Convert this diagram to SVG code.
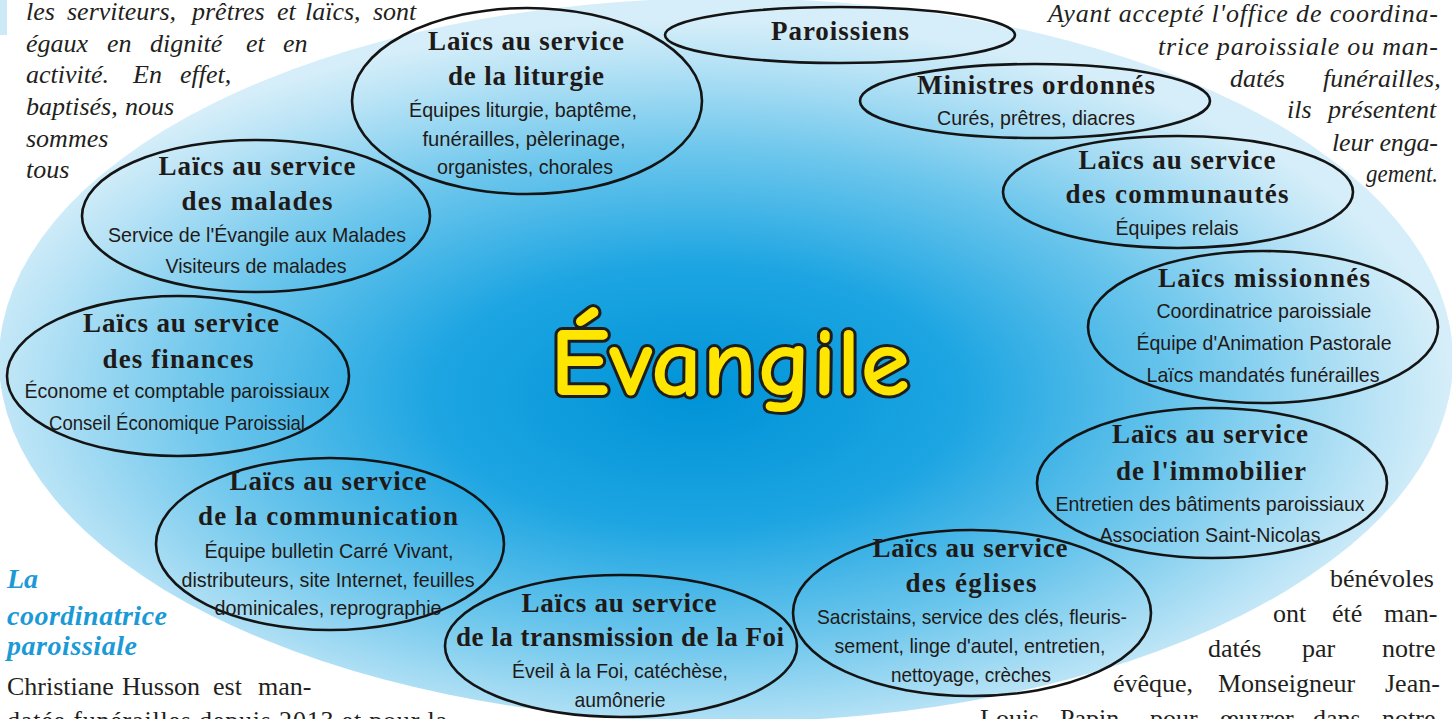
<svg xmlns="http://www.w3.org/2000/svg" width="1452" height="719" viewBox="0 0 1452 719">
<defs>
<radialGradient id="bg" cx="0.48" cy="0.55" r="0.52">
<stop offset="0" stop-color="#0093d7"/>
<stop offset="0.35" stop-color="#1da5e2"/>
<stop offset="0.65" stop-color="#6cc6ec"/>
<stop offset="0.9" stop-color="#bbe4f6"/>
<stop offset="1" stop-color="#d6eef9"/>
</radialGradient>
<style>
.node ellipse{fill:none;stroke:#141414;stroke-width:2.6}
.t{font-family:"Liberation Serif","Times New Roman",serif;font-weight:bold;font-size:27px;fill:#1f1a17;text-anchor:middle}
.s{font-family:"Liberation Sans",Arial,sans-serif;font-size:21px;fill:#1f1a17;text-anchor:middle}
.it{font-family:"Liberation Serif","Times New Roman",serif;font-style:italic;font-size:26px;fill:#231f20}
.body{font-family:"Liberation Serif","Times New Roman",serif;font-size:26px;fill:#231f20}
.blue{font-family:"Liberation Serif","Times New Roman",serif;font-style:italic;font-weight:bold;font-size:28px;fill:#1b9ad6}
.ev{font-family:"Comic Sans MS","Comic Neue","DejaVu Sans",sans-serif;font-weight:bold;font-size:98px;fill:#ffe600;stroke:#1d1d1b;stroke-width:6;stroke-linejoin:round;paint-order:stroke;text-anchor:middle}
</style>
</defs>
<rect width="1452" height="719" fill="#ffffff"/>
<rect x="0" y="0" width="7" height="35" fill="#cbe9f7"/>
<ellipse id="background" cx="726" cy="360" rx="727" ry="362" fill="url(#bg)"/>

<!-- surrounding article text -->
<g id="text-top-left" class="it">
<text y="20"><tspan x="26">les</tspan><tspan x="67">serviteurs,</tspan><tspan x="192">prêtres</tspan><tspan x="277">et</tspan><tspan x="305">laïcs,</tspan><tspan x="373">sont</tspan></text>
<text y="52"><tspan x="26">égaux</tspan><tspan x="107">en</tspan><tspan x="150">dignité</tspan><tspan x="246">et</tspan><tspan x="283">en</tspan></text>
<text y="83"><tspan x="26">activité.</tspan><tspan x="133">En</tspan><tspan x="180">effet,</tspan></text>
<text y="115"><tspan x="26">baptisés,</tspan><tspan x="125">nous</tspan></text>
<text y="147" x="26">sommes</text>
<text y="178" x="26">tous</text>
</g>
<g id="text-top-right" class="it">
<text x="1048" y="22" textLength="390" lengthAdjust="spacing">Ayant accepté l'office de coordina-</text>
<text x="1158" y="55" textLength="280" lengthAdjust="spacing">trice paroissiale ou man-</text>
<text y="87"><tspan x="1230">datés</tspan><tspan x="1323">funérailles,</tspan></text>
<text y="118"><tspan x="1287">ils</tspan><tspan x="1328">présentent</tspan></text>
<text x="1332" y="151" textLength="106" lengthAdjust="spacing">leur enga-</text>
<text x="1366" y="182" textLength="72" lengthAdjust="spacingAndGlyphs">gement.</text>
</g>
<g id="text-bottom-left">
<text class="blue" x="7" y="588">La</text>
<text class="blue" x="7" y="625" textLength="160" lengthAdjust="spacing">coordinatrice</text>
<text class="blue" x="7" y="655" textLength="130" lengthAdjust="spacing">paroissiale</text>
<text class="body" y="695"><tspan x="7">Christiane</tspan><tspan x="122">Husson</tspan><tspan x="213">est</tspan><tspan x="258">man-</tspan></text>
<text class="body" x="7" y="729" textLength="440" lengthAdjust="spacing">datée funérailles depuis 2013 et pour la</text>
</g>
<g id="text-bottom-right" class="body">
<text x="1330" y="587">bénévoles</text>
<text y="622"><tspan x="1273">ont</tspan><tspan x="1332">été</tspan><tspan x="1384">man-</tspan></text>
<text y="657"><tspan x="1208">datés</tspan><tspan x="1302">par</tspan><tspan x="1382">notre</tspan></text>
<text y="692"><tspan x="1113">évêque,</tspan><tspan x="1218">Monseigneur</tspan><tspan x="1385">Jean-</tspan></text>
<text y="727"><tspan x="980">Louis</tspan><tspan x="1060">Papin,</tspan><tspan x="1150">pour</tspan><tspan x="1220">œuvrer</tspan><tspan x="1313">dans</tspan><tspan x="1382">notre</tspan></text>
</g>

<g id="center">
<text class="ev" x="730" y="395" textLength="360" lengthAdjust="spacingAndGlyphs">Évangile</text>
</g>

<g id="connectors"></g>

<g id="paroissiens" class="node">
<ellipse cx="840" cy="35" rx="175" ry="28"/>
<text class="t" x="840" y="40" textLength="138">Paroissiens</text>
</g>
<g id="ministres" class="node">
<ellipse cx="1035" cy="101" rx="175" ry="37"/>
<text class="t" x="1036" y="94" textLength="238">Ministres ordonnés</text>
<text class="s" x="1036" y="125" textLength="198" lengthAdjust="spacingAndGlyphs">Curés, prêtres, diacres</text>
</g>
<g id="liturgie" class="node">
<ellipse cx="527" cy="101" rx="175" ry="93"/>
<text class="t" x="526" y="50" textLength="196">Laïcs au service</text>
<text class="t" x="526" y="85" textLength="156">de la liturgie</text>
<text class="s" x="523" y="117" textLength="228" lengthAdjust="spacingAndGlyphs">Équipes liturgie, baptême,</text>
<text class="s" x="524" y="146" textLength="203" lengthAdjust="spacingAndGlyphs">funérailles, pèlerinage,</text>
<text class="s" x="525" y="174" textLength="176" lengthAdjust="spacingAndGlyphs">organistes, chorales</text>
</g>
<g id="malades" class="node">
<ellipse cx="256" cy="216" rx="174" ry="76"/>
<text class="t" x="257" y="175" textLength="197">Laïcs au service</text>
<text class="t" x="257" y="210" textLength="151">des malades</text>
<text class="s" x="257" y="242" textLength="298" lengthAdjust="spacingAndGlyphs">Service de l'Évangile aux Malades</text>
<text class="s" x="256" y="273" textLength="181" lengthAdjust="spacingAndGlyphs">Visiteurs de malades</text>
</g>
<g id="communautes" class="node">
<ellipse cx="1178" cy="192" rx="175" ry="56"/>
<text class="t" x="1177" y="169" textLength="197">Laïcs au service</text>
<text class="t" x="1177" y="203" textLength="223">des communautés</text>
<text class="s" x="1177" y="235" textLength="123" lengthAdjust="spacingAndGlyphs">Équipes relais</text>
</g>
<g id="missionnes" class="node">
<ellipse cx="1263" cy="327" rx="175" ry="76"/>
<text class="t" x="1264" y="287" textLength="212">Laïcs missionnés</text>
<text class="s" x="1264" y="318" textLength="215" lengthAdjust="spacingAndGlyphs">Coordinatrice paroissiale</text>
<text class="s" x="1264" y="350" textLength="255" lengthAdjust="spacingAndGlyphs">Équipe d'Animation Pastorale</text>
<text class="s" x="1263" y="382" textLength="233" lengthAdjust="spacingAndGlyphs">Laïcs mandatés funérailles</text>
</g>
<g id="finances" class="node">
<ellipse cx="178" cy="376" rx="171" ry="80"/>
<text class="t" x="181" y="332" textLength="196">Laïcs au service</text>
<text class="t" x="178" y="368" textLength="151">des finances</text>
<text class="s" x="177" y="398" textLength="305" lengthAdjust="spacingAndGlyphs">Économe et comptable paroissiaux</text>
<text class="s" x="177" y="430" textLength="256" lengthAdjust="spacingAndGlyphs">Conseil Économique Paroissial</text>
</g>
<g id="immobilier" class="node">
<ellipse cx="1212" cy="483" rx="175" ry="75"/>
<text class="t" x="1210" y="443" textLength="196">Laïcs au service</text>
<text class="t" x="1211" y="480" textLength="190">de l'immobilier</text>
<text class="s" x="1210" y="511" textLength="309" lengthAdjust="spacingAndGlyphs">Entretien des bâtiments paroissiaux</text>
<text class="s" x="1210" y="542" textLength="221" lengthAdjust="spacingAndGlyphs">Association Saint-Nicolas</text>
</g>
<g id="communication" class="node">
<ellipse cx="330" cy="544" rx="174" ry="86"/>
<text class="t" x="328" y="490" textLength="197">Laïcs au service</text>
<text class="t" x="328" y="525" textLength="260">de la communication</text>
<text class="s" x="329" y="558" textLength="249" lengthAdjust="spacingAndGlyphs">Équipe bulletin Carré Vivant,</text>
<text class="s" x="328" y="587" textLength="293" lengthAdjust="spacingAndGlyphs">distributeurs, site Internet, feuilles</text>
<text class="s" x="328" y="615" textLength="227" lengthAdjust="spacingAndGlyphs">dominicales, reprographie</text>
</g>
<g id="eglises" class="node">
<ellipse cx="972" cy="613" rx="179" ry="83"/>
<text class="t" x="970" y="557" textLength="195">Laïcs au service</text>
<text class="t" x="971" y="592" textLength="131">des églises</text>
<text class="s" x="972" y="624" textLength="310" lengthAdjust="spacingAndGlyphs">Sacristains, service des clés, fleuris-</text>
<text class="s" x="970" y="653" textLength="271" lengthAdjust="spacingAndGlyphs">sement, linge d'autel, entretien,</text>
<text class="s" x="971" y="682" textLength="160" lengthAdjust="spacingAndGlyphs">nettoyage, crèches</text>
</g>
<g id="transmission" class="node">
<ellipse cx="621" cy="646" rx="176" ry="71"/>
<text class="t" x="619" y="612" textLength="195">Laïcs au service</text>
<text class="t" x="620" y="646" textLength="328">de la transmission de la Foi</text>
<text class="s" x="620" y="678" textLength="216" lengthAdjust="spacingAndGlyphs">Éveil à la Foi, catéchèse,</text>
<text class="s" x="620" y="707" textLength="91" lengthAdjust="spacingAndGlyphs">aumônerie</text>
</g>
</svg>
